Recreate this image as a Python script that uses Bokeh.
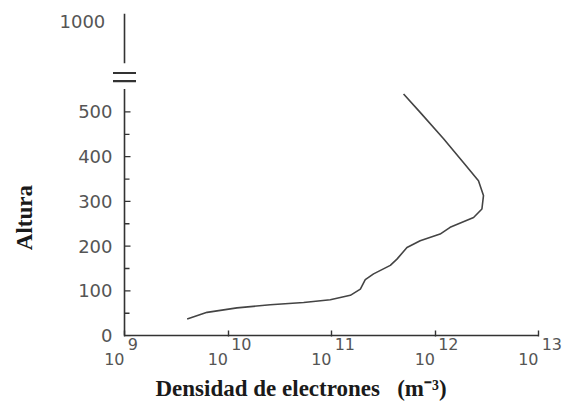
from bokeh.plotting import figure
from bokeh.models import (Range1d, FixedTicker, LogAxis, Title,
                          CustomJSTickFormatter)
from bokeh.embed import file_html
from bokeh.resources import INLINE

# ---- data ----
density = [4.03e9, 6.28e9, 1.22e10, 2.56e10, 5.38e10, 9.73e10, 1.52e11, 1.90e11,
           2.12e11, 2.55e11, 3.70e11, 4.29e11, 5.36e11, 7.19e11, 1.12e12, 1.40e12,
           2.36e12, 2.84e12, 2.94e12, 2.63e12, 1.88e12, 1.21e12, 7.19e11, 4.97e11]
altitude = [37, 52, 62, 69, 74, 80, 90, 104, 125, 138, 157, 171, 197, 212, 227, 242,
            264, 283, 313, 346, 387, 440, 499, 540]
x_exponents = [9, 10, 11, 12, 13]
y_ticks = [0, 100, 200, 300, 400, 500]
y_minor = [50, 150, 250, 350, 450]
y_top_label = "1000"
y_top_pos = 702                 # place of "1000" above the axis break
break_lo, break_hi = 551, 609   # gap in the altitude axis
break_marks = [569, 587]
y_max = 720
x_title = "Densidad de electrones \u2002(m\u207b\u00b3)"
y_title = "Altura"

INK = "#333333"
CURVE = "#444444"
TICK_GREY = "#555555"
TITLE_INK = "#1a1a1a"

x_lo = x_exponents[0]
x_hi = x_exponents[-1]
px_per_decade = 103.5
tick_len_major = 6 / px_per_decade
tick_len_minor = 5 / px_per_decade
break_half = 11.5 / px_per_decade

p = figure(width=562, height=405, output_backend="svg", toolbar_location=None,
           x_axis_type="log",
           x_range=Range1d(10.0 ** (x_lo - 0.116), 10.0 ** x_hi),
           y_range=Range1d(-2, y_max),
           min_border_left=112, min_border_right=24, min_border_top=13,
           min_border_bottom=69)
p.outline_line_color = None
p.xgrid.visible = False
p.ygrid.visible = False
p.background_fill_color = "white"
p.border_fill_color = "white"

# ---- hand-drawn axis lines (broken altitude axis) ----
x_axis_pos = 10.0 ** x_lo
p.segment(x0=[x_axis_pos], y0=[0], x1=[10.0 ** x_hi], y1=[0],
          line_color=INK, line_width=1.6)
p.segment(x0=[x_axis_pos, x_axis_pos], y0=[0, break_hi],
          x1=[x_axis_pos, x_axis_pos], y1=[break_lo, y_max],
          line_color=INK, line_width=1.6)
p.segment(x0=[10.0 ** (x_lo - break_half)] * len(break_marks), y0=break_marks,
          x1=[10.0 ** (x_lo + break_half)] * len(break_marks), y1=break_marks,
          line_color=INK, line_width=2.2)
# inward ticks of the altitude axis
p.segment(x0=[x_axis_pos] * len(y_ticks), y0=y_ticks,
          x1=[10.0 ** (x_lo + tick_len_major)] * len(y_ticks), y1=y_ticks,
          line_color=INK, line_width=1.3)
p.segment(x0=[x_axis_pos] * len(y_minor), y0=y_minor,
          x1=[10.0 ** (x_lo + tick_len_minor)] * len(y_minor), y1=y_minor,
          line_color=INK, line_width=1.3)

# ---- curve ----
p.line(density, altitude, line_color=CURVE, line_width=1.6)

# ---- y axis: labels + title ----
ya = p.yaxis[0]
ya.ticker = FixedTicker(ticks=y_ticks + [y_top_pos], minor_ticks=[])
ya.formatter = CustomJSTickFormatter(
    args=dict(top=y_top_pos, top_label=y_top_label + "\u2009\u2009"),
    code="return tick == top ? top_label : tick.toFixed(0);")
ya.axis_line_color = None
ya.major_tick_line_color = None
ya.minor_tick_line_color = None
ya.major_tick_in = 0
ya.major_tick_out = 0
ya.major_label_text_font = "DejaVu Sans"
ya.major_label_text_font_size = "18px"
ya.major_label_text_color = TICK_GREY
ya.major_label_standoff = 0
# trailing (upper) padding moves the word down from the frame centre
ya.axis_label = y_title + "\u2003\u2003\u2003\u2002\u2009"
ya.axis_label_standoff = 20
ya.axis_label_text_font = "Liberation Serif"
ya.axis_label_text_font_style = "bold"
ya.axis_label_text_font_size = "23px"
ya.axis_label_text_color = TITLE_INK

# ---- x axis: inward ticks + exponent labels (start at the tick) ----
decade_ticker = FixedTicker(ticks=[10.0 ** k for k in x_exponents], minor_ticks=[])
xa = p.xaxis[0]
xa.ticker = decade_ticker
xa.axis_line_color = None
xa.major_tick_in = 6
xa.major_tick_out = 0
xa.major_tick_line_color = INK
xa.major_tick_line_width = 1.4
xa.minor_tick_line_color = None
xa.formatter = CustomJSTickFormatter(code="""
const e = Math.round(Math.log10(tick)).toString();
return '\u2007'.repeat(e.length) + '\u2009\u2009' + e;
""")
xa.major_label_text_font = "DejaVu Sans"
xa.major_label_text_font_size = "16px"
xa.major_label_text_color = TICK_GREY
xa.major_label_standoff = -2

# second axis below: the "10" bases (end at the tick)
xb = LogAxis(ticker=decade_ticker,
             formatter=CustomJSTickFormatter(code="return '10\u2007\u2007';"))
xb.axis_line_color = None
xb.major_tick_line_color = None
xb.minor_tick_line_color = None
xb.major_tick_in = 0
xb.major_tick_out = 0
xb.major_label_text_font = "DejaVu Sans"
xb.major_label_text_font_size = "16px"
xb.major_label_text_color = TICK_GREY
xb.major_label_standoff = -7
p.add_layout(xb, "below")

# ---- x title ----
p.add_layout(Title(text=x_title, align="left", offset=43, standoff=5,
                   text_font="Liberation Serif", text_font_style="bold",
                   text_font_size="23px", text_color=TITLE_INK), "below")

open("out.html", "w").write(file_html(p, INLINE))
